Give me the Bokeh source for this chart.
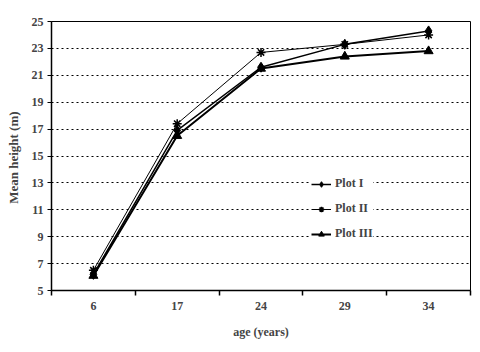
from bokeh.plotting import figure
from bokeh.models import (Range1d, FixedTicker, LinearAxis, Legend, LegendItem, Grid)
from bokeh.embed import file_html
from bokeh.resources import INLINE

ages = ["6", "17", "24", "29", "34"]
plot_1 = [6.2, 16.9, 21.6, 23.3, 24.3]
plot_2 = [6.5, 17.4, 22.7, 23.3, 24.0]
plot_3 = [6.1, 16.5, 21.5, 22.4, 22.8]
y_ticks = [5, 7, 9, 11, 13, 15, 17, 19, 21, 23, 25]

xs = [i + 0.5 for i in range(len(ages))]
FONT = "Liberation Serif"

p = figure(width=480, height=352, output_backend="svg", toolbar_location=None,
           x_range=Range1d(0, len(ages)), y_range=Range1d(5, 25),
           x_axis_type=None, y_axis_type=None,
           min_border_left=51, min_border_right=10, min_border_top=21, min_border_bottom=62)
p.background_fill_color = "white"
p.border_fill_color = "white"
p.outline_line_color = "black"
p.outline_line_width = 1

# y axis
yax = LinearAxis(ticker=FixedTicker(ticks=y_ticks), axis_label="Mean  height (m)")
yax.axis_line_width = 1.5
yax.major_tick_in = 0
yax.major_tick_out = 4
yax.minor_tick_line_color = None
yax.major_label_text_font = FONT
yax.major_label_text_font_style = "bold"
yax.major_label_text_font_size = "12px"
yax.major_label_standoff = 4
yax.axis_label_text_font = FONT
yax.axis_label_text_font_style = "bold"
yax.axis_label_text_font_size = "13px"
yax.axis_label_standoff = 8
p.add_layout(yax, "left")

# x axis: ticks at category boundaries
bounds = list(range(len(ages) + 1))
xax = LinearAxis(ticker=FixedTicker(ticks=bounds))
xax.major_label_overrides = {b: "" for b in bounds}
xax.axis_line_width = 1.5
xax.major_tick_in = 0
xax.major_tick_out = 5
xax.major_tick_line_width = 1.5
xax.minor_tick_line_color = None
xax.major_label_standoff = 0
p.add_layout(xax, "below")

# x labels at category centers
xlab = LinearAxis(ticker=FixedTicker(ticks=xs), axis_label="age (years)")
xlab.major_label_overrides = {x: a for x, a in zip(xs, ages)}
xlab.axis_line_color = None
xlab.major_tick_line_color = None
xlab.minor_tick_line_color = None
xlab.major_label_text_font = FONT
xlab.major_label_text_font_style = "bold"
xlab.major_label_text_font_size = "12px"
xlab.major_label_standoff = 0
xlab.axis_label_text_font = FONT
xlab.axis_label_text_font_style = "bold"
xlab.axis_label_text_font_size = "12px"
xlab.axis_label_standoff = 12
p.add_layout(xlab, "below")

# grid lines
g = Grid(dimension=1, ticker=FixedTicker(ticks=y_ticks[1:-1]))
g.grid_line_color = "black"
g.grid_line_dash = "2 3"
g.grid_line_width = 1
p.add_layout(g)

r1l = p.line(xs, plot_1, line_color="black", line_width=1.5)
r1m = p.scatter(xs, plot_1, marker="diamond", size=10, color="black")
r2l = p.line(xs, plot_2, line_color="black", line_width=1)
r2m = p.scatter(xs, plot_2, marker="asterisk", size=9, color="black", line_width=1.5)
r3l = p.line(xs, plot_3, line_color="black", line_width=2)
r3m = p.scatter(xs, plot_3, marker="triangle", size=9, color="black")

legend = Legend(items=[
    LegendItem(label="Plot I", renderers=[r1l, r1m]),
    LegendItem(label="Plot II", renderers=[r2l, r2m]),
    LegendItem(label="Plot III", renderers=[r3l, r3m]),
], location=(260, 49))
legend.border_line_color = None
legend.background_fill_color = "white"
legend.background_fill_alpha = 1
legend.label_text_font = FONT
legend.label_text_font_style = "bold"
legend.label_text_font_size = "12px"
legend.glyph_width = 20
legend.glyph_height = 14
legend.label_height = 14
legend.label_standoff = 4
legend.spacing = 10
legend.padding = 8
p.add_layout(legend, "center")

open("out.html", "w").write(file_html(p, INLINE))
